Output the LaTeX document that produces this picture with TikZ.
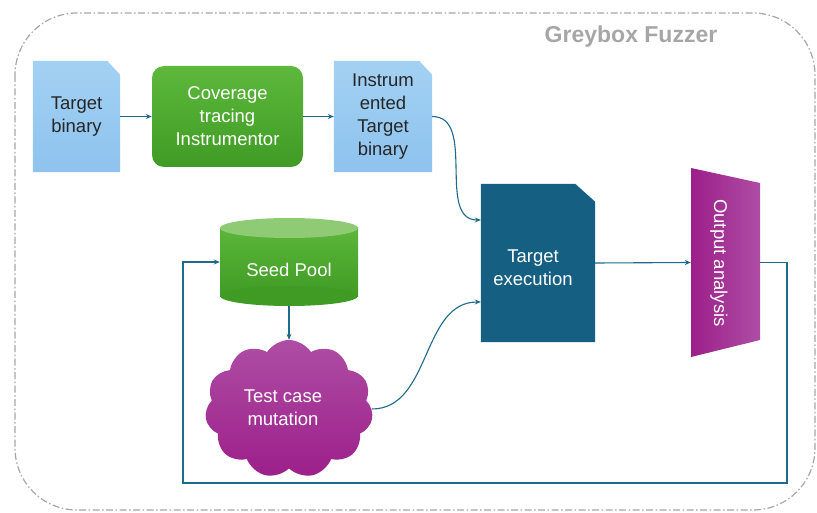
\documentclass[tikz,border=0pt]{standalone}
\usepackage{fontspec}
\setmainfont{Liberation Sans}
\usetikzlibrary{arrows.meta,shapes.symbols,calc}

\definecolor{docTop}{HTML}{A3D1F3}
\definecolor{docBot}{HTML}{8EC3EE}
\definecolor{grnTop}{HTML}{5DB83C}
\definecolor{grnBot}{HTML}{3F9B24}
\definecolor{grn}{HTML}{4EA72E}
\definecolor{grnLid}{HTML}{8FCB74}
\definecolor{execBlue}{HTML}{156082}
\definecolor{magDark}{HTML}{9C1F8A}
\definecolor{magLight}{HTML}{AE4DA4}
\definecolor{wire}{HTML}{1D6A8C}
\definecolor{frameGrey}{HTML}{A6A6A6}

\begin{document}
\begin{tikzpicture}[x=1pt,y=-1pt,
  lbl/.style={font=\fontsize{18.5}{23}\selectfont, align=center},
  box/.style={inner sep=0pt, lbl},
  flow/.style={draw=wire, line width=1.1pt, -{Stealth[length=6pt,width=5pt]}},
]
\useasboundingbox (0,0) rectangle (817,513);

% outer frame of the fuzzer
\draw[frameGrey, line width=1.2pt, rounded corners=62pt,
      dash pattern=on 7pt off 2.5pt on 1.5pt off 2.5pt]
  (15,13) rectangle (815,510);
\node[font=\bfseries\fontsize{23}{26}\selectfont, text=frameGrey] (title) at (631,37) {Greybox Fuzzer};

% top row: document shapes with a clipped upper right corner
\node[box, minimum width=87pt, minimum height=111pt] (tb) at (76.5,116.5) {};
\shade[top color=docTop, bottom color=docBot]
  (tb.north west) -- ([xshift=-13pt]tb.north east) -- ([yshift=-14pt]tb.north east)
  -- (tb.south east) -- (tb.south west) -- cycle;
\node[box, text=black!85] at (tb) {Target\\binary};

\node[box, rounded corners=12pt, top color=grnTop, bottom color=grnBot,
      minimum width=151pt, minimum height=101pt, text=white] (cov) at (227.5,116.5)
  {Coverage\\tracing\\Instrumentor};

\node[box, minimum width=98pt, minimum height=111pt] (itb) at (383,116.5) {};
\shade[top color=docTop, bottom color=docBot]
  (itb.north west) -- ([xshift=-13pt]itb.north east) -- ([yshift=-14pt]itb.north east)
  -- (itb.south east) -- (itb.south west) -- cycle;
\node[box, text=black!85] at (itb) {Instrum\\ented\\Target\\binary};

% target execution
\node[box, minimum width=114pt, minimum height=158pt] (exec) at (538,263) {};
\fill[execBlue]
  (exec.north west) -- ([xshift=-20pt]exec.north east) -- ([yshift=-18pt]exec.north east)
  -- (exec.south east) -- (exec.south west) -- cycle;
\node[box, text=white] at (533,268) {Target\\execution};

% seed pool (cylinder)
\node[box, minimum width=138pt, minimum height=88pt] (seed) at (289,262) {};
\shade[top color=grnTop!90!grn, bottom color=grnBot] (220,228) rectangle (358,297);
\fill[grnBot] (289,296) ellipse [x radius=69, y radius=10];
\fill[grnLid] (289,228) ellipse [x radius=69, y radius=10];
\node[box, text=white] at (289,270) {Seed Pool};

% test case mutation (cloud)
\node[cloud, cloud puffs=11, cloud puff arc=115, aspect=1.2,
      top color=magLight, bottom color=magDark, inner sep=0pt,
      minimum width=168pt, minimum height=138pt] (mut) at (289,409) {};
\node[box, text=white] at (283,408) {Test case\\mutation};

% output analysis (trapezoid)
\node[box, minimum width=69pt, minimum height=189pt] (out) at (725.5,262.5) {};
\shade[left color=magDark, right color=magLight]
  (691,168) -- (760,183) -- (760,340) -- (691,357) -- cycle;
\node[box, text=white, rotate=-90] at (719,263) {Output analysis};

% connectors
\draw[flow] (tb.east) -- (cov.west);
\draw[flow] (cov.east) -- (itb.west);
\draw[flow] (itb.east) to[out=0, in=180] ([yshift=43pt]exec.west);
\draw[flow] (seed.south) -- (mut.north);
\draw[flow] (mut.east) to[out=0, in=180] ([yshift=-39pt]exec.west);
\draw[flow] (exec.east) -- (out.west);

\coordinate (fbR) at (787,483);
\coordinate (fbL) at (183,483);
\draw[flow] (out.east) -| (fbR) -- (fbL) |- (seed.west);
\end{tikzpicture}
\end{document}
